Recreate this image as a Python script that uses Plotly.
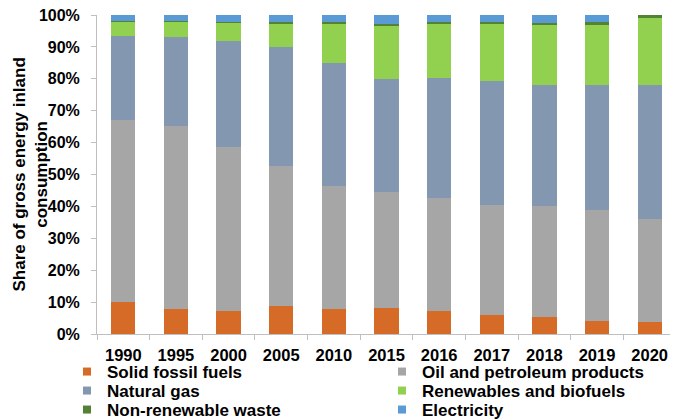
import plotly.graph_objects as go

years = ["1990", "1995", "2000", "2005", "2010", "2015", "2016", "2017", "2018", "2019", "2020"]

# shares of gross inland consumption, percent
solid_fossil = [9.9, 7.8, 7.2, 8.7, 7.8, 8.0, 7.2, 6.0, 5.3, 4.2, 3.8]
oil_petroleum = [57.2, 57.5, 51.4, 44.0, 38.5, 36.4, 35.5, 34.4, 34.9, 34.7, 32.3]
natural_gas = [26.2, 27.8, 33.2, 37.3, 38.7, 35.4, 37.6, 38.8, 38.0, 39.1, 41.9]
renewables = [4.7, 4.9, 5.8, 7.4, 12.2, 16.8, 16.8, 18.1, 18.8, 19.1, 21.2]
nonrenew_waste = [0.1, 0.1, 0.1, 0.3, 0.5, 0.7, 0.7, 0.6, 0.6, 0.6, 0.8]
electricity = [1.9, 1.9, 2.3, 2.3, 2.3, 2.7, 2.2, 2.1, 2.4, 2.3, 0.0]

series = [
    ("Solid fossil fuels", solid_fossil, "#d66b27"),
    ("Oil and petroleum products", oil_petroleum, "#a6a6a6"),
    ("Natural gas", natural_gas, "#8497b0"),
    ("Renewables and biofuels", renewables, "#92d050"),
    ("Non-renewable waste", nonrenew_waste, "#548235"),
    ("Electricity", electricity, "#5b9bd5"),
]

FONT = "Liberation Sans, Arial, sans-serif"
AXIS = "#bfbfbf"
W, H = 670, 411  # page body adds an 8px offset

fig = go.Figure()
for name, vals, color in series:
    fig.add_trace(go.Bar(x=years, y=vals, name=name, marker=dict(color=color, line=dict(width=0)),
                         showlegend=False))

# legend keys: 2 columns x 3 rows, one single-entry legend per slot
col_x = [59, 374]
row_y = [364, 383, 402]
legends = {}
for i, (name, _, color) in enumerate(series):
    key = "legend" if i == 0 else f"legend{i + 1}"
    fig.add_trace(go.Scatter(x=[None], y=[None], mode="markers", name=name, legend=key,
                             marker=dict(symbol="square", size=8, color=color)))
    legends[key] = dict(
        orientation="h",
        xref="container", x=col_x[i % 2] / W, xanchor="left",
        yref="container", y=1 - row_y[i // 2] / H, yanchor="middle",
        itemwidth=30,
        bgcolor="rgba(0,0,0,0)",
        font=dict(family=FONT, size=17, color="black", weight="bold"),
    )

fig.update_layout(
    width=W, height=H,
    margin=dict(l=89, r=2, t=7, b=85, autoexpand=False),
    barmode="stack",
    bargap=0.54,
    plot_bgcolor="white",
    paper_bgcolor="white",
    font=dict(family=FONT, color="black"),
    xaxis=dict(
        type="category",
        showline=True, linecolor=AXIS, linewidth=1,
        ticks="outside", tickson="boundaries", ticklen=5, tickcolor=AXIS,
        ticklabelstandoff=6,
        tickfont=dict(size=16.5, weight="bold", family=FONT),
        showgrid=False,
    ),
    yaxis=dict(
        range=[0, 100], dtick=10, ticksuffix="%",
        showline=True, linecolor=AXIS, linewidth=1,
        ticks="outside", ticklen=5, tickcolor=AXIS,
        ticklabelstandoff=8, ticklabeloverflow="allow",
        tickfont=dict(size=16, weight="bold", family=FONT),
        showgrid=False, zeroline=False,
    ),
    **legends,
)

fig.add_annotation(
    text="Share of gross energy inland<br>consumption",
    xref="paper", yref="paper", x=(22 - 89) / 579, y=0.5,
    xanchor="center", yanchor="middle", textangle=-90, showarrow=False,
    font=dict(family=FONT, size=17, weight="bold", color="black"),
)

fig.write_html("out.html")
